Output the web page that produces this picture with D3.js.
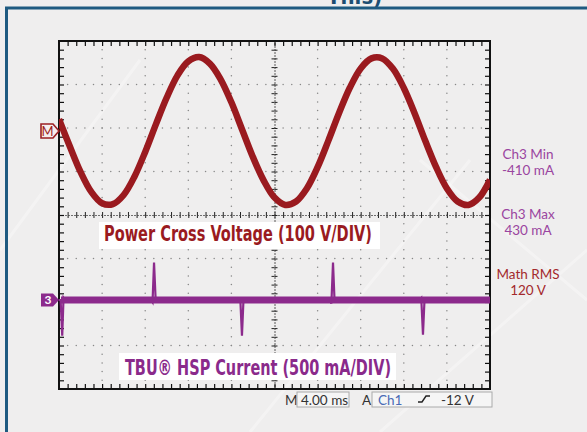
<!DOCTYPE html>
<html>
<head>
<meta charset="utf-8">
<script src="https://cdn.jsdelivr.net/npm/d3@7"></script>
<style>
  body { margin: 0; background: #efeeee; }
  svg { display: block; }
</style>
</head>
<body>
<svg id="canvas" width="587" height="432"></svg>
<script>
// time base in ms (M 4.00 ms/div, 10 divisions)
let timeMs = [0, 1, 2, 3, 4, 5, 6, 7, 8, 9, 10, 11, 12, 13, 14, 15, 16, 17, 18, 19, 20,
              21, 22, 23, 24, 25, 26, 27, 28, 29, 30, 31, 32, 33, 34, 35, 36, 37, 38, 39, 40]
// power cross voltage (V), math channel
let voltage = [27, -35, -94, -140, -166, -168, -147, -105, -48, 16, 77, 128, 160, 170, 155, 119, 66, 3, -60, -114, -153,
               -170, -162, -132, -83, -22, 42, 100, 144, 167, 167, 143, 99, 41, -23, -83, -132, -162, -170, -153, -112]
// TBU HSP current (mA), channel 3
let currentT = [0, 0.15, 0.3, 0.42, 0.55, 8.55, 8.68, 8.82, 8.97, 16.7, 16.82, 16.98, 17.12, 25.15, 25.28, 25.43, 25.57, 33.5, 33.62, 33.78, 33.92, 40]
let currentMa = [0, 0, -410, 25, 0, 0, -25, 430, 0, 0, 30, -410, 0, 0, -40, 430, 0, 0, 20, -400, 0, 0]

let measures = [
  {label: 'Ch3 Min', value: '-410 mA', color: '#9a45a0'},
  {label: 'Ch3 Max', value: '430 mA', color: '#9a45a0'},
  {label: 'Math RMS', value: '120 V', color: '#a3292c'}
]

let canvas = d3.select('#canvas')

let pLeft = 59, pRight = 490, pTop = 41, pBottom = 389
let x = d3.scaleLinear().domain([0, 40]).range([pLeft, pRight])
let yDiv = d3.scaleLinear().domain([-4, 4]).range([pBottom, pTop])
// channel offsets: M at +1.93 div (100 V/div), ch3 at -1.95 div (500 mA/div)
let yV = d3.scaleLinear().domain([-593, 207]).range([pBottom, pTop])
let yI = d3.scaleLinear().domain([-1023, 2977]).range([pBottom, pTop])

// faint background streaks
let streaks = [[380, 432, 587, 250], [420, 160, 587, 300], [250, 432, 470, 160], [0, 250, 140, 60]]
canvas.selectAll('line.streak')
  .data(streaks)
  .enter()
  .append('line')
  .attr('class', 'streak')
  .attr('x1', d => d[0]).attr('y1', d => d[1])
  .attr('x2', d => d[2]).attr('y2', d => d[3])
  .attr('stroke', '#ffffff')
  .attr('stroke-width', 3)
  .attr('opacity', 0.35)

// title fragment (cut by the page edge, as in the original) and frame
canvas.append('text')
  .attr('x', 327).attr('y', 4)
  .attr('font-family', 'Liberation Sans Narrow, DejaVu Sans Condensed, sans-serif')
  .attr('font-weight', 'bold')
  .attr('font-size', 22)
  .attr('fill', '#1d4e72')
  .text('This)')

canvas.append('line')
  .attr('x1', 5).attr('x2', 587).attr('y1', 8).attr('y2', 8)
  .attr('stroke', '#1e5a80').attr('stroke-width', 3)
canvas.append('line')
  .attr('x1', 6.5).attr('x2', 6.5).attr('y1', 7).attr('y2', 432)
  .attr('stroke', '#1e5a80').attr('stroke-width', 3)

// graticule dots
let minorX = d3.range(0, 40.001, 0.8)
let minorY = d3.range(-4, 4.001, 0.2)
let grid = canvas.append('g')
for (let k = 1; k < 10; k++) {
  if (k == 5) continue
  grid.selectAll(null)
    .data(minorY)
    .enter()
    .append('circle')
    .attr('cx', x(k * 4)).attr('cy', d => yDiv(d))
    .attr('r', 0.75).attr('fill', '#888')
}
for (let k = -3; k <= 3; k++) {
  if (k == 0) continue
  grid.selectAll(null)
    .data(minorX)
    .enter()
    .append('circle')
    .attr('cx', d => x(d)).attr('cy', yDiv(k))
    .attr('r', 0.75).attr('fill', '#888')
}

// centre lines (fine dotted + minor ticks)
let tickX = d3.range(0, 40.001, 0.8).filter(d => d > 0 && d < 40)
let tickY = d3.range(-4, 4.001, 0.2).filter(d => d > -4 && d < 4)

function centreAxis(g) {
  g.selectAll('.domain').attr('stroke', '#444').attr('stroke-dasharray', '1,2')
  g.selectAll('.tick line').attr('stroke', '#222')
}
canvas.append('g').attr('transform', 'translate(0,' + yDiv(0) + ')')
  .call(d3.axisBottom(x).tickValues(tickX).tickSize(3).tickSizeOuter(0).tickFormat(''))
  .call(centreAxis)
canvas.append('g').attr('transform', 'translate(0,' + yDiv(0) + ')')
  .call(d3.axisTop(x).tickValues(tickX).tickSize(3).tickSizeOuter(0).tickFormat(''))
  .call(centreAxis)
canvas.append('g').attr('transform', 'translate(' + x(20) + ',0)')
  .call(d3.axisLeft(yDiv).tickValues(tickY).tickSize(3).tickSizeOuter(0).tickFormat(''))
  .call(centreAxis)
canvas.append('g').attr('transform', 'translate(' + x(20) + ',0)')
  .call(d3.axisRight(yDiv).tickValues(tickY).tickSize(3).tickSizeOuter(0).tickFormat(''))
  .call(centreAxis)

// frame edge ticks
function edgeAxis(g) {
  g.selectAll('.domain').remove()
  g.selectAll('.tick line').attr('stroke', '#111').attr('stroke-width', 1.2)
}
canvas.append('g').attr('transform', 'translate(0,' + pTop + ')')
  .call(d3.axisBottom(x).tickValues(tickX).tickSize(5).tickFormat('')).call(edgeAxis)
canvas.append('g').attr('transform', 'translate(0,' + pBottom + ')')
  .call(d3.axisTop(x).tickValues(tickX).tickSize(5).tickFormat('')).call(edgeAxis)
canvas.append('g').attr('transform', 'translate(' + pLeft + ',0)')
  .call(d3.axisRight(yDiv).tickValues(tickY).tickSize(5).tickFormat('')).call(edgeAxis)
canvas.append('g').attr('transform', 'translate(' + pRight + ',0)')
  .call(d3.axisLeft(yDiv).tickValues(tickY).tickSize(5).tickFormat('')).call(edgeAxis)

canvas.append('rect')
  .attr('x', pLeft).attr('y', pTop)
  .attr('width', pRight - pLeft).attr('height', pBottom - pTop)
  .attr('fill', 'none').attr('stroke', '#111').attr('stroke-width', 2)

// clip paths
let defs = canvas.append('defs')
defs.append('clipPath').attr('id', 'plotClip')
  .append('rect').attr('x', pLeft).attr('y', pTop).attr('width', pRight - pLeft).attr('height', pBottom - pTop)
defs.append('clipPath').attr('id', 'bandClip')
  .append('rect').attr('x', pLeft + 2).attr('y', yI(0) - 3.5).attr('width', pRight - pLeft - 2).attr('height', 7)

// voltage trace
let vLine = d3.line()
  .x((d, i) => x(timeMs[i]))
  .y(d => yV(d))
  .curve(d3.curveCatmullRom)
canvas.append('path')
  .datum(voltage)
  .attr('clip-path', 'url(#plotClip)')
  .attr('d', vLine)
  .attr('fill', 'none')
  .attr('stroke', '#9a1a1f')
  .attr('stroke-width', 6.5)
  .attr('stroke-linejoin', 'round')

// current trace
let iLine = d3.line()
  .x((d, i) => x(currentT[i]))
  .y(d => yI(d))
canvas.append('path')
  .datum(currentMa)
  .attr('clip-path', 'url(#plotClip)')
  .attr('d', iLine)
  .attr('fill', 'none')
  .attr('stroke', '#8c2a8c')
  .attr('stroke-width', 2.2)
canvas.append('path')
  .datum(currentMa)
  .attr('clip-path', 'url(#bandClip)')
  .attr('d', iLine)
  .attr('fill', 'none')
  .attr('stroke', '#8c2a8c')
  .attr('stroke-width', 9)

// channel markers
let mY = yV(0)
canvas.append('path')
  .attr('d', 'M41,' + (mY - 7) + 'H53L59,' + mY + 'L53,' + (mY + 7) + 'H41Z')
  .attr('fill', '#f6eeee').attr('stroke', '#9c1f23').attr('stroke-width', 1.6)
canvas.append('text')
  .attr('x', 47.5).attr('y', mY + 5)
  .attr('text-anchor', 'middle')
  .attr('font-family', 'Lato, sans-serif').attr('font-size', 13)
  .attr('fill', '#9c1f23')
  .text('M')

let cY = yI(0)
canvas.append('path')
  .attr('d', 'M41,' + (cY - 6.5) + 'H53L59,' + cY + 'L53,' + (cY + 6.5) + 'H41Z')
  .attr('fill', '#8c2a8c')
canvas.append('text')
  .attr('x', 48).attr('y', cY + 4.5)
  .attr('text-anchor', 'middle')
  .attr('font-family', 'Lato, sans-serif').attr('font-weight', 'bold').attr('font-size', 12)
  .attr('fill', '#ffffff')
  .text('3')

// channel captions
function caption(bx, by, bw, bh, tx, ty, tw, txt, color) {
  canvas.append('rect')
    .attr('x', bx).attr('y', by).attr('width', bw).attr('height', bh)
    .attr('fill', '#ffffff')
  canvas.append('text')
    .attr('x', tx).attr('y', ty)
    .attr('textLength', tw).attr('lengthAdjust', 'spacingAndGlyphs')
    .attr('font-family', 'Liberation Sans Narrow, DejaVu Sans Condensed, sans-serif')
    .attr('font-weight', 'bold').attr('font-size', 22)
    .attr('fill', color)
    .text(txt)
}
caption(99, 222, 281, 27, 104, 241, 268, 'Power Cross Voltage (100 V/DIV)', '#9a1b1f')
caption(119, 353, 277, 27, 125, 375, 266, 'TBU\u00AE HSP Current (500 mA/DIV)', '#8a2a8b')

// measurements
let mg = canvas.selectAll('g.measure')
  .data(measures)
  .enter()
  .append('g')
  .attr('class', 'measure')
  .attr('transform', (d, i) => 'translate(528,' + (159 + i * 60) + ')')
mg.append('text')
  .attr('text-anchor', 'middle')
  .attr('font-family', 'Lato, sans-serif').attr('font-size', 13.5)
  .attr('fill', d => d.color)
  .text(d => d.label)
mg.append('text')
  .attr('y', 16)
  .attr('text-anchor', 'middle')
  .attr('font-family', 'Lato, sans-serif').attr('font-size', 13.5)
  .attr('fill', d => d.color)
  .text(d => d.value)

// status bar
let status = canvas.append('g')
  .attr('font-family', 'Lato, sans-serif').attr('font-size', 13.5)
status.append('text').attr('x', 285).attr('y', 405).attr('fill', '#333').text('M')
status.append('rect').attr('x', 297).attr('y', 392).attr('width', 52).attr('height', 15)
  .attr('fill', '#f5f5f5').attr('stroke', '#aaa')
status.append('text').attr('x', 301).attr('y', 405).attr('fill', '#333').text('4.00 ms')
status.append('text').attr('x', 362).attr('y', 405).attr('fill', '#333').text('A')
status.append('rect').attr('x', 372).attr('y', 392).attr('width', 120).attr('height', 15)
  .attr('fill', '#f5f5f5').attr('stroke', '#aaa')
status.append('text').attr('x', 378).attr('y', 405).attr('fill', '#4a6bb5').text('Ch1')
status.append('path').attr('d', 'M418,402H422L426,396H430')
  .attr('fill', 'none').attr('stroke', '#222').attr('stroke-width', 1.4)
status.append('text').attr('x', 441).attr('y', 405).attr('fill', '#333').text('-12 V')
</script>
</body>
</html>
